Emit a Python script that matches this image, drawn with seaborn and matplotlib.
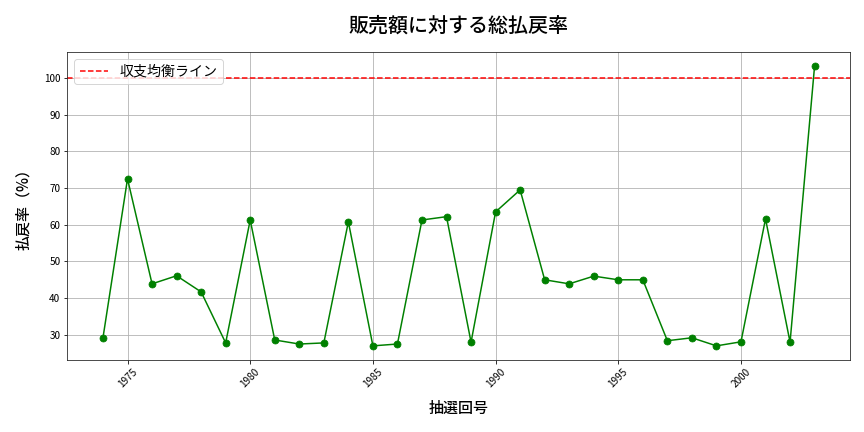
import numpy as np
import pandas as pd
import matplotlib
matplotlib.use("Agg")
import matplotlib.pyplot as plt
import seaborn as sns

# data
years = list(range(1974, 2004))
payout = [29.2, 72.5, 43.9, 46.1, 41.7, 27.8, 61.3, 28.6, 27.5, 27.8,
          60.8, 27.0, 27.5, 61.3, 62.2, 28.0, 63.5, 69.5, 45.0, 43.9,
          46.0, 45.0, 45.0, 28.4, 29.2, 27.0, 28.1, 61.6, 28.0, 103.3]
breakeven = 100

df = pd.DataFrame({"year": years, "payout": payout})

sns.set_style("white", {"xtick.bottom": True, "ytick.left": True,
                        "text.color": "black", "axes.labelcolor": "black",
                        "xtick.color": "black", "ytick.color": "black"})
plt.rcParams['font.family'] = ['Noto Sans CJK JP', 'DejaVu Sans']

fig, ax = plt.subplots(figsize=(12, 6), dpi=72)
sns.lineplot(data=df, x="year", y="payout", color="green", marker="o",
             markersize=7, markeredgecolor="green", linewidth=1.5, ax=ax)
ax.axhline(breakeven, color="red", linestyle="--", linewidth=1.5, label="収支均衡ライン")

ax.set_title("販売額に対する総払戻率", fontsize=20, pad=20, fontweight="medium")
ax.set_xlabel("抽選回号", fontsize=15, labelpad=10, fontweight="medium")
ax.set_ylabel("払戻率（%）", fontsize=15, labelpad=12, fontweight="medium")
ax.grid(True, color="#b0b0b0", linewidth=0.8)
ax.tick_params(axis="x", labelsize=10, rotation=45, length=3.5)
ax.tick_params(axis="y", labelsize=10, length=3.5)
ax.legend(loc="upper left", fontsize=14)
for s in ax.spines.values():
    s.set_color("#222222")

plt.subplots_adjust(left=0.078, right=0.984, top=0.88, bottom=0.167)
plt.savefig("out.png", dpi=72)
